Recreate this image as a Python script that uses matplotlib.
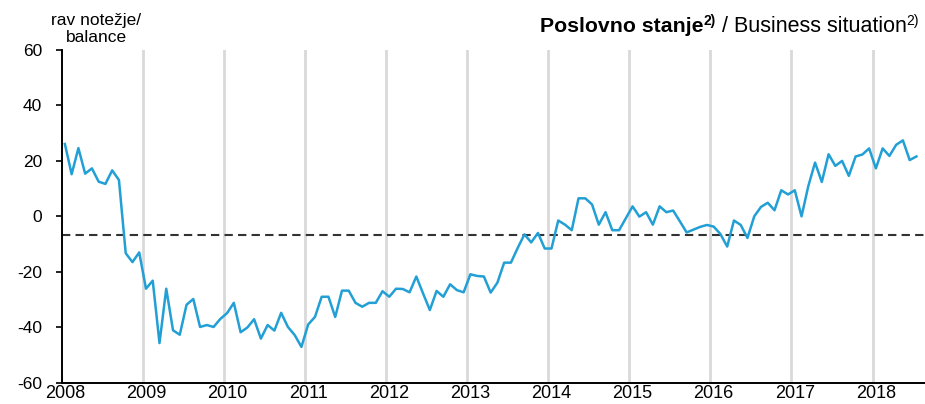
import matplotlib
matplotlib.use("Agg")
import matplotlib.pyplot as plt
import numpy as np

plt.rcParams['font.family'] = ['Liberation Sans', 'DejaVu Sans']
plt.rcParams['axes.unicode_minus'] = False

# Monthly balance, Jan 2008 .. Jul 2018
values = [
    26.1, 15.2, 24.6, 15.4, 17.3, 12.5, 11.7, 16.6, 13.1, -13.3, -16.5, -13.0,   # 2008
    -26.1, -23.2, -45.7, -26.1, -41.1, -42.7, -31.9, -29.8, -39.9, -39.2, -39.9, -37.0,  # 2009
    -34.9, -31.2, -41.8, -40.1, -37.1, -44.1, -39.2, -41.2, -34.8, -39.9, -42.8, -47.1,  # 2010
    -39.0, -36.3, -29.0, -29.0, -36.3, -26.8, -26.8, -31.2, -32.6, -31.2, -31.2, -27.0,  # 2011
    -29.0, -26.1, -26.2, -27.4, -21.7, -27.8, -33.8, -26.9, -29.0, -24.5, -26.6, -27.4,  # 2012
    -20.9, -21.5, -21.7, -27.5, -23.9, -16.7, -16.7, -11.4, -6.5, -9.4, -6.0, -11.6,     # 2013
    -11.6, -1.5, -3.0, -5.0, 6.5, 6.5, 4.3, -3.0, 1.5, -5.0, -5.0, -0.7,                 # 2014
    3.6, -0.1, 1.5, -3.0, 3.6, 1.5, 2.1, -1.8, -5.8, -4.8, -3.8, -3.1,                   # 2015
    -3.7, -6.4, -10.9, -1.5, -3.1, -7.8, 0.0, 3.4, 4.9, 2.2, 9.4, 7.9,                   # 2016
    9.4, 0.0, 10.9, 19.4, 12.4, 22.4, 18.2, 20.0, 14.6, 21.6, 22.3, 24.5,                # 2017
    17.3, 24.5, 21.8, 25.8, 27.4, 20.3, 21.6,                                            # 2018
]
average = -6.7
years = list(range(2008, 2019))
yticks = [-60, -40, -20, 0, 20, 40, 60]

x = 2008 + (np.arange(len(values)) + 0.5) / 12.0

W, H = 925, 404
fig = plt.figure(figsize=(W / 100, H / 100), dpi=100)
ax = fig.add_axes([61.5 / W, 1 - 382.7 / H, 1 - 61.5 / W, (382.7 - 50) / H])

for yr in years[1:]:
    ax.axvline(yr, color='#d9d9d9', lw=2, zorder=1)

ax.axhline(average, color='#333333', lw=1.5, ls=(0, (4, 2.5)), zorder=2)
ax.plot(x, values, color='#229fd5', lw=1.8, zorder=3)

ax.set_xlim(2008, 2008 + (W - 61.5) / 81.1)
ax.set_ylim(-60, 60)
ax.set_yticks(yticks)
ax.set_yticklabels([str(v) for v in yticks], fontsize=12.5)
ax.set_xticks([y + 0.5 / 12 for y in years])
ax.set_xticklabels([str(y) for y in years], fontsize=13)
ax.tick_params(axis='x', length=0, pad=2)
ax.tick_params(axis='y', length=4, width=1.2, direction='out', pad=10)

for s in ['top', 'right']:
    ax.spines[s].set_visible(False)
for s in ['left', 'bottom']:
    ax.spines[s].set_color('black')
    ax.spines[s].set_linewidth(1.4)

# y-axis caption
fig.text(96 / W, 1 - 21 / H, 'rav notežje/', ha='center', va='center', fontsize=12.5)
fig.text(96 / W, 1 - 38 / H, 'balance', ha='center', va='center', fontsize=12.5)

# title pieces laid out right-aligned
fig.canvas.draw()
renderer = fig.canvas.get_renderer()
pieces = [
    ('Poslovno stanje', dict(fontsize=15.3, fontweight='bold'), 0),
    ('2)', dict(fontsize=10, fontweight='bold'), 6),
    (' / Business situation', dict(fontsize=15.5), 0),
    ('2)', dict(fontsize=10), 6),
]
baseline = 31.5
texts = []
widths = []
for s, props, rise in pieces:
    t = fig.text(0, 0, s, va='baseline', ha='left', **props)
    bb = t.get_window_extent(renderer)
    widths.append(bb.width)
    texts.append(t)
right = 919
xpos = right - sum(widths)
for (s, props, rise), t, w in zip(pieces, texts, widths):
    t.set_position((xpos / W, 1 - (baseline - rise) / H))
    xpos += w

fig.savefig('out.png', dpi=100)
